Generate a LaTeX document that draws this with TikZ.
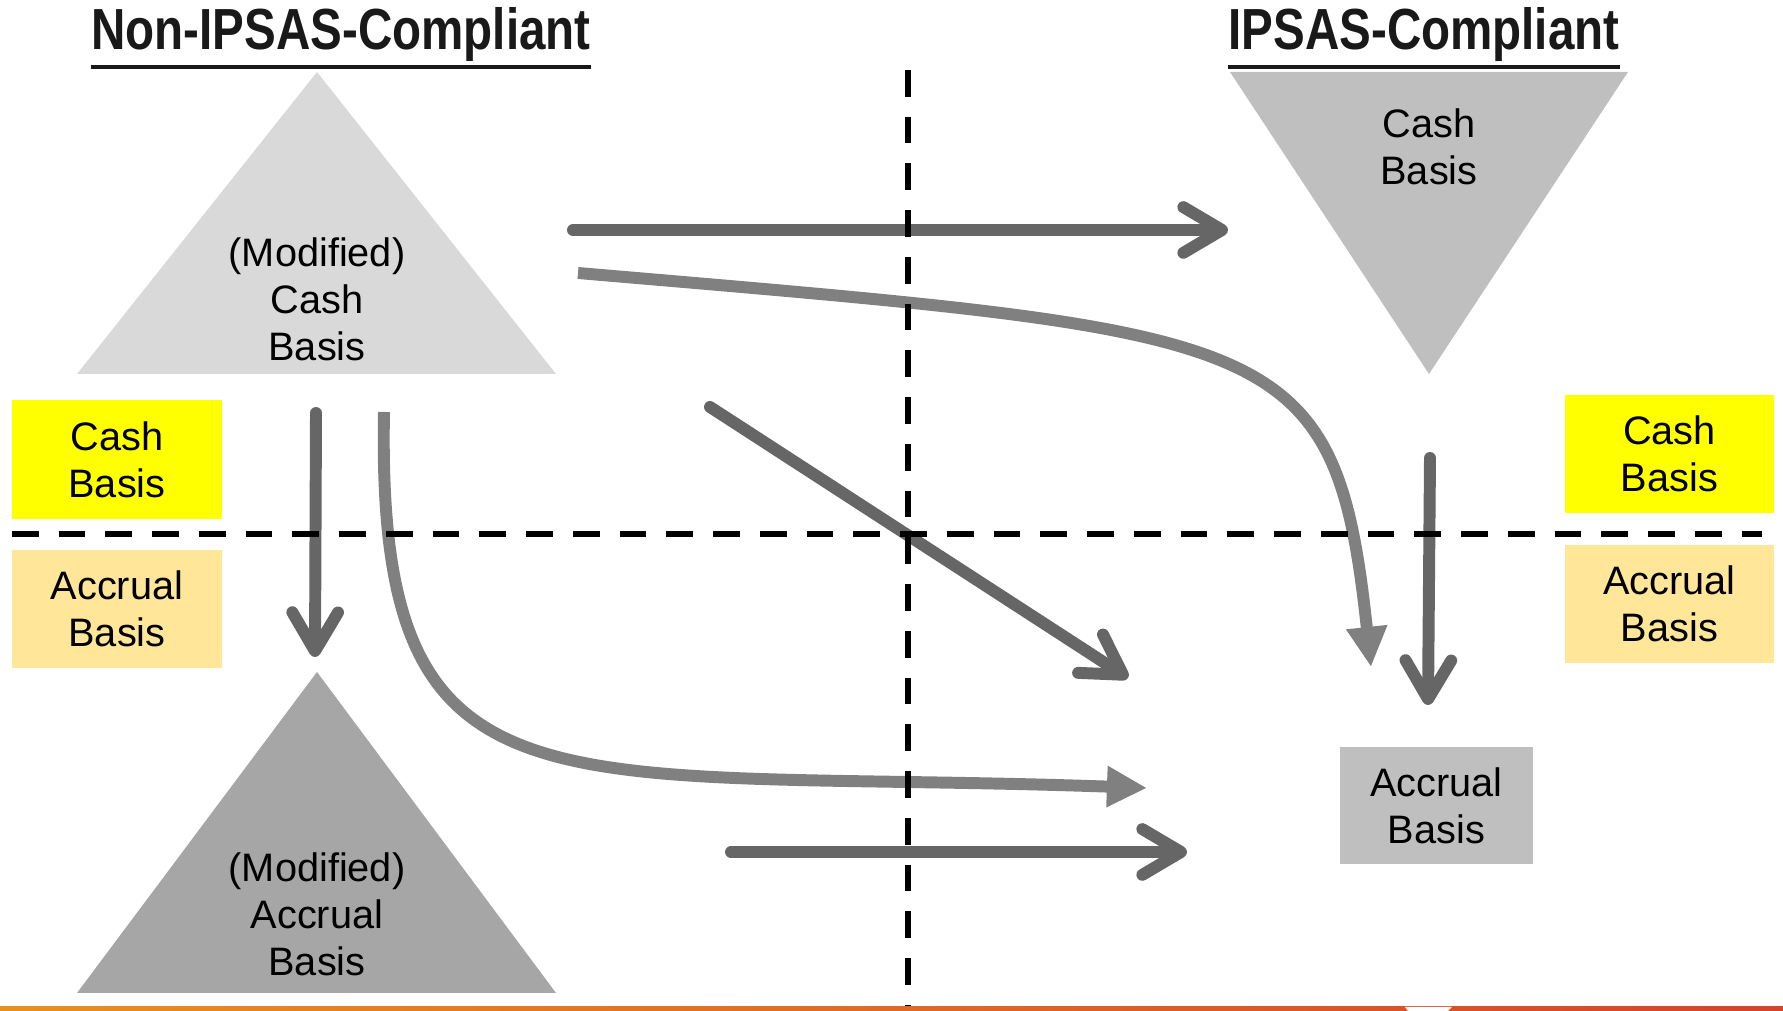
\documentclass[tikz,border=0pt]{standalone}
\usepackage{fontspec}
\setmainfont{Liberation Sans}
\newfontfamily\headfont[FakeStretch=0.82]{Liberation Sans}
\usetikzlibrary{arrows.meta}
\definecolor{basisDark}{HTML}{666666}
\definecolor{basisMid}{HTML}{808080}
\definecolor{basisLight}{HTML}{D9D9D9}
\definecolor{basisGray}{HTML}{BFBFBF}
\definecolor{basisDeep}{HTML}{A6A6A6}
\definecolor{cashYellow}{HTML}{FFFF00}
\definecolor{accrualYellow}{HTML}{FFE699}
\definecolor{barLeft}{HTML}{E8901F}
\definecolor{barRight}{HTML}{D6432B}

\begin{document}
\begin{tikzpicture}[font=\fontsize{11.3}{13.4}\selectfont,
  chev/.style={line width=3.4pt, basisDark, line cap=round,
    -{Straight Barb[round, length=11pt, width=13pt]}},
  flow/.style={line width=3.4pt, basisMid, -{Triangle[length=11.4pt, width=11pt]}},
  lab/.style={align=center, inner sep=0pt},
  head/.style={inner sep=0pt, anchor=base, text=black!90,
    font=\headfont\bfseries\fontsize{16.5}{18}\selectfont},
  sep/.style={line width=1.7pt, dash pattern=on 7.6pt off 5.7pt}]
  \useasboundingbox (0,0) rectangle (17.83,10.11);

  \node[head] (hNon) at (3.41,9.61) {Non-IPSAS-Compliant};
  \node[head] (hIps) at (14.24,9.61) {IPSAS-Compliant};
  \foreach \h in {hNon,hIps} {
    \draw[line width=1.1pt, black!90] ([yshift=-1.7mm]\h.base west) -- ([yshift=-1.7mm]\h.base east);
  }

  \fill[basisLight] (3.17,9.39) -- (5.56,6.37) -- (0.77,6.37) -- cycle;
  \fill[basisDeep] (3.17,3.39) -- (5.56,0.18) -- (0.77,0.18) -- cycle;
  \fill[basisGray] (12.30,9.39) -- (16.28,9.39) -- (14.29,6.37) -- cycle;
  \node[lab] (modCash) at (3.17,7.12) {(Modified)\\Cash\\Basis};
  \node[lab] (modAccr) at (3.17,0.97) {(Modified)\\Accrual\\Basis};
  \node[lab] (ipsCash) at (14.29,8.64) {Cash\\Basis};
  \node[lab, fill=basisGray, minimum width=1.93cm, minimum height=1.17cm] (ipsAccr) at (14.365,2.055) {Accrual\\Basis};

  \node[lab, fill=cashYellow, minimum width=2.10cm, minimum height=1.19cm] (lCash) at (1.17,5.515) {Cash\\Basis};
  \node[lab, fill=accrualYellow, minimum width=2.10cm, minimum height=1.18cm] (lAccr) at (1.17,4.02) {Accrual\\Basis};
  \node[lab, fill=cashYellow, minimum width=2.09cm, minimum height=1.18cm] (rCash) at (16.695,5.57) {Cash\\Basis};
  \node[lab, fill=accrualYellow, minimum width=2.09cm, minimum height=1.18cm] (rAccr) at (16.695,4.07) {Accrual\\Basis};

  \coordinate (cashOutA) at (5.73,7.81);
  \coordinate (cashOutB) at (5.78,7.38);
  \coordinate (cashOutC) at (7.10,6.04);
  \coordinate (cashDown) at (3.16,5.98);
  \coordinate (cashCurve) at (3.84,5.99);
  \coordinate (accrOut) at (7.31,1.59);
  \coordinate (ipsDown) at (14.30,5.53);

  \draw[chev] (cashOutA) -- (12.28,7.81);
  \draw[flow] (cashOutB) .. controls (12.78,6.78) and (13.35,6.81) .. (13.71,3.44);
  \draw[chev] (cashOutC) -- (11.28,3.33);
  \draw[chev] (cashDown) -- (3.15,3.54);
  \draw[flow] (cashCurve) .. controls (3.76,1.79) and (5.47,2.44) .. (11.47,2.23);
  \draw[chev] (accrOut) -- (11.87,1.59);
  \draw[chev] (ipsDown) -- (14.28,3.06);

  \draw[sep] (0.12,4.77) -- (17.62,4.77);
  \draw[sep] (9.08,9.41) -- (9.08,0);

  \shade[left color=barLeft, right color=barRight] (0,0) rectangle (17.83,0.04);
  \fill[white] (14.05,0.04) -- (14.52,0.04) -- (14.48,0) -- (14.08,0) -- cycle;
\end{tikzpicture}
\end{document}
